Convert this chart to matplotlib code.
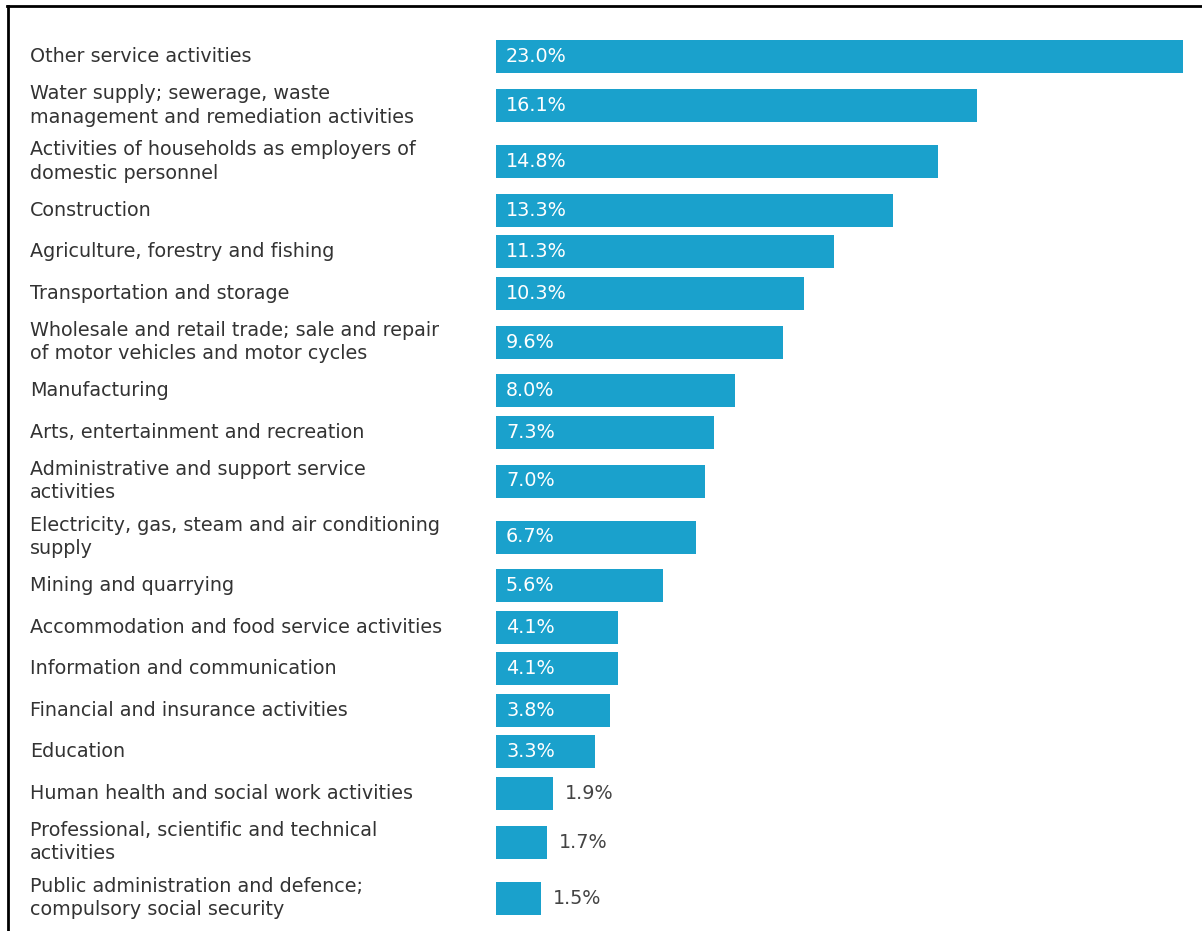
import matplotlib
matplotlib.use("Agg")
import matplotlib.pyplot as plt
from matplotlib import transforms

plt.rcParams['font.family'] = ['DejaVu Sans']

# sectors, top to bottom
sectors = [
    "Other service activities",
    "Water supply; sewerage, waste\nmanagement and remediation activities",
    "Activities of households as employers of\ndomestic personnel",
    "Construction",
    "Agriculture, forestry and fishing",
    "Transportation and storage",
    "Wholesale and retail trade; sale and repair\nof motor vehicles and motor cycles",
    "Manufacturing",
    "Arts, entertainment and recreation",
    "Administrative and support service\nactivities",
    "Electricity, gas, steam and air conditioning\nsupply",
    "Mining and quarrying",
    "Accommodation and food service activities",
    "Information and communication",
    "Financial and insurance activities",
    "Education",
    "Human health and social work activities",
    "Professional, scientific and technical\nactivities",
    "Public administration and defence;\ncompulsory social security",
]
shares = [23.0, 16.1, 14.8, 13.3, 11.3, 10.3, 9.6, 8.0, 7.3, 7.0,
          6.7, 5.6, 4.1, 4.1, 3.8, 3.3, 1.9, 1.7, 1.5]

W, H = 1202, 931
bar_color = "#1aa1cc"
px_per_pct = 29.87
bar_left_px = 496

fig = plt.figure(figsize=(W / 100, H / 100), dpi=100)
ax = fig.add_axes([0, 0, 1, 1])
ax.set_xlim(-bar_left_px / px_per_pct, (W - bar_left_px) / px_per_pct)
ax.set_ylim(H, 0)
ax.axis("off")

# row layout: single-line rows are shorter than two-line rows
half = {1: 20.75, 2: 28.0}
ys = []
y = 36
for lab in sectors:
    n = lab.count("\n") + 1
    y += half[n]
    ys.append(y)
    y += half[n]

ax.barh(ys, shares, height=33, color=bar_color, left=0)

lab_tr = transforms.blended_transform_factory(fig.transFigure, ax.transData)
for lab, yc, v in zip(sectors, ys, shares):
    ax.text(30 / W, yc, lab, transform=lab_tr, ha="left", va="center",
            fontsize=13.8, color="#333333", linespacing=1.3)
    if v >= 3:
        ax.text(10 / px_per_pct, yc, f"{v:.1f}%", ha="left", va="center",
                fontsize=13.8, color="white")
    else:
        ax.text(v + 12 / px_per_pct, yc, f"{v:.1f}%", ha="left", va="center",
                fontsize=13.8, color="#444444")

# screenshot frame (top and left edges)
fig.add_artist(plt.Line2D([7 / W, 1], [1 - 5.5 / H, 1 - 5.5 / H],
                          transform=fig.transFigure, color="black", lw=2))
fig.add_artist(plt.Line2D([7.5 / W, 7.5 / W], [0, 1 - 5.5 / H],
                          transform=fig.transFigure, color="black", lw=2))

fig.savefig("out.png", dpi=100)
